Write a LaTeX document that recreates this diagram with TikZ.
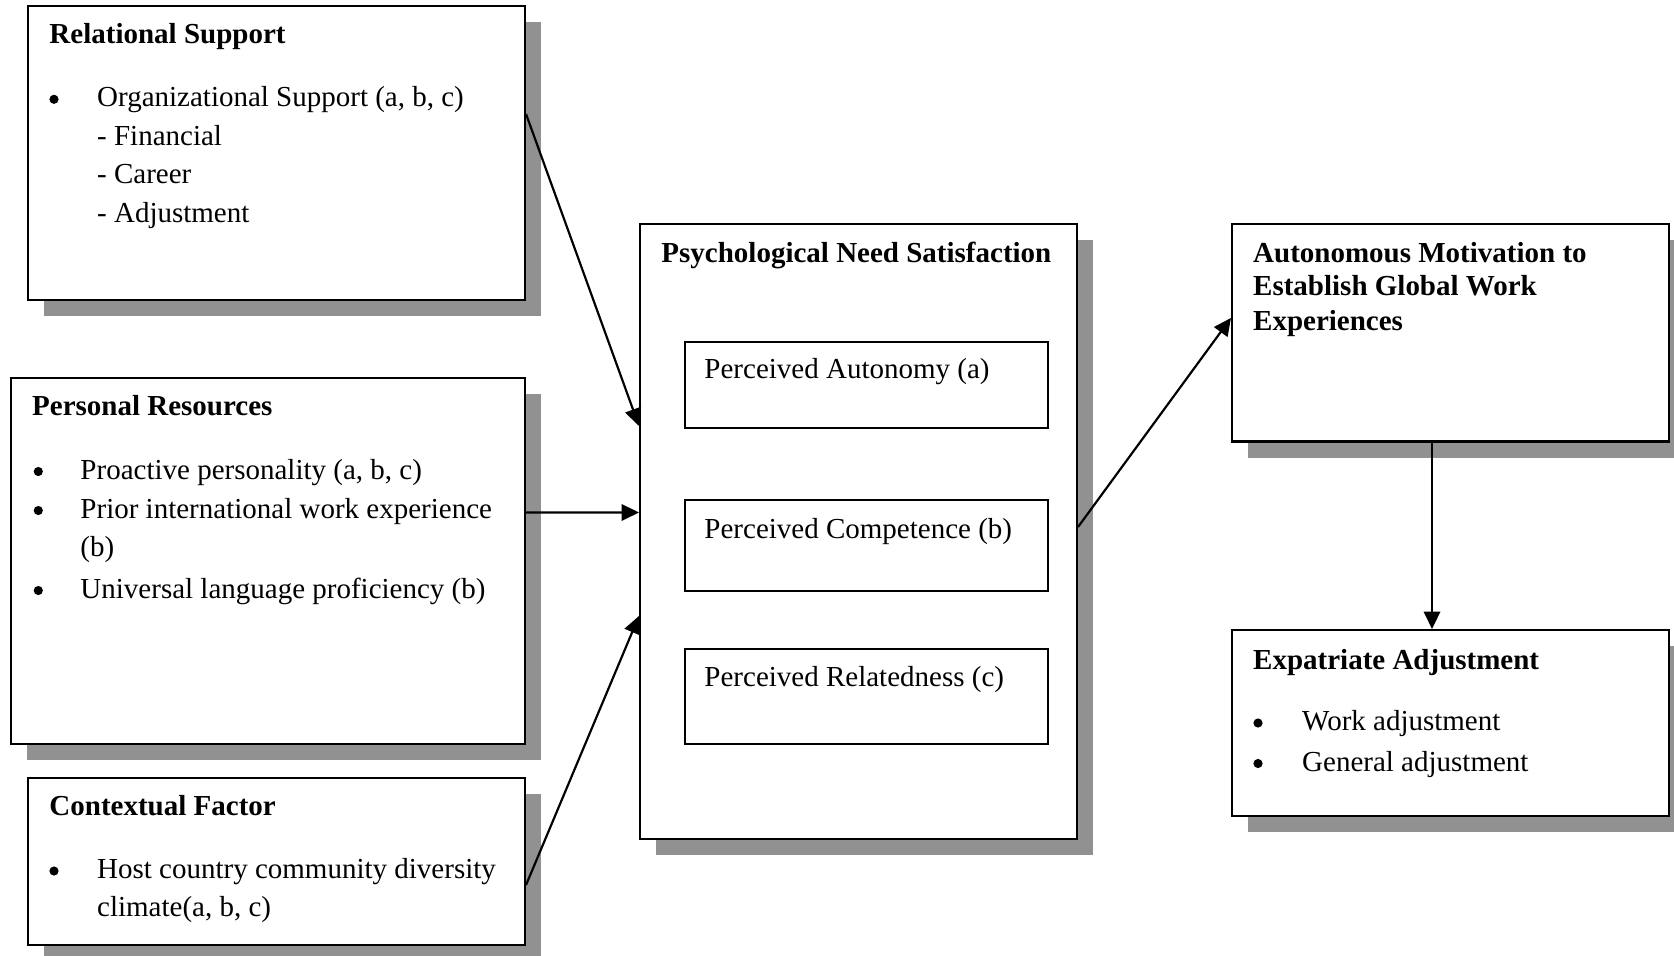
\documentclass[tikz,border=0pt]{standalone}
\usepackage{fontspec}
\setmainfont{Liberation Serif}
\usetikzlibrary{arrows.meta,shadows,fit,calc}
\definecolor{shadowgray}{gray}{0.57}
\begin{document}
\begin{tikzpicture}[x=0.4138pt,y=-0.4138pt,
  box/.style={draw, line width=0.85pt, inner sep=0pt, fill=white},
  sbox/.style={box, drop shadow={shadow xshift=6.62pt, shadow yshift=-6.62pt, fill=shadowgray, opacity=1}},
  txt/.style={anchor=base west, inner sep=0pt, font=\fontsize{12}{14}\selectfont},
  hd/.style={anchor=base west, inner sep=0pt, font=\fontsize{12}{14}\selectfont\bfseries},
  bul/.style={circle, fill, inner sep=0pt, minimum size=3.8pt},
  arr/.style={line width=0.9pt, -{Triangle[length=7.2pt,width=6.8pt]}}]
\useasboundingbox (0,0) rectangle (1674,955);

% boxes
\node[sbox, fit={(28,6)(525,300)}] (RS) {};
\node[sbox, fit={(11,378)(525,744)}] (PR) {};
\node[sbox, fit={(28,778)(525,945)}] (CF) {};
\node[sbox, fit={(640,224)(1077,839)}] (PNS) {};
\node[box, fit={(685,342)(1048,428)}] (PA) {};
\node[box, fit={(685,500)(1048,591)}] (PC) {};
\node[box, fit={(685,649)(1048,744)}] (PRel) {};
\node[sbox, fit={(1232,224)(1669,441.5)}] (AM) {};
\node[sbox, fit={(1232,630)(1669,816)}] (EA) {};

% Relational Support
\node[hd] (rs0) at (49,43.3) {Relational Support};
\node[bul] (rsb1) at (54,99.3) {};
\node[txt] (rs1) at (96.7,106.7) {Organizational Support (a, b, c)};
\node[txt] (rs2) at (96.7,145) {- Financial};
\node[txt] (rs3) at (96.7,183.8) {- Career};
\node[txt] (rs4) at (96.7,222.5) {- Adjustment};

% Personal Resources
\node[hd] (pr0) at (31.7,415) {Personal Resources};
\node[bul] (prb1) at (38.3,471.5) {};
\node[txt] (pr1) at (80,479) {Proactive personality (a, b, c)};
\node[bul] (prb2) at (38.3,510.5) {};
\node[txt] (pr2) at (80,518) {Prior international work experience};
\node[txt] (pr3) at (80,556.5) {(b)};
\node[bul] (prb3) at (38.3,590.5) {};
\node[txt] (pr4) at (80,598) {Universal language proficiency (b)};

% Contextual Factor
\node[hd] (cf0) at (49,815) {Contextual Factor};
\node[bul] (cfb1) at (54,871) {};
\node[txt] (cf1) at (96.7,878.3) {Host country community diversity};
\node[txt] (cf2) at (96.7,916.7) {climate(a, b, c)};

% Psychological Need Satisfaction
\node[hd] (pns0) at (661,262) {Psychological Need Satisfaction};
\node[txt] (pa0) at (704,378.3) {Perceived Autonomy (a)};
\node[txt] (pc0) at (704,538) {Perceived Competence (b)};
\node[txt] (prl0) at (704,686.5) {Perceived Relatedness (c)};

% Autonomous Motivation
\node[hd] (am1) at (1252.7,262) {Autonomous Motivation to};
\node[hd] (am2) at (1252.7,295.3) {Establish Global Work};
\node[hd] (am3) at (1252.7,330.5) {Experiences};

% Expatriate Adjustment
\node[hd] (ea0) at (1252.7,669) {Expatriate Adjustment};
\node[bul] (eab1) at (1258,723) {};
\node[txt] (ea1) at (1301.7,730.5) {Work adjustment};
\node[bul] (eab2) at (1258,763.5) {};
\node[txt] (ea2) at (1301.7,771) {General adjustment};

% connectors
\draw[arr] ($(RS.north east)+(0,109)$) -- ($(PNS.north west)+(0,203)$);
\draw[arr] ($(PR.north east)+(0,135.5)$) -- ($(PNS.north west)+(0,289.5)$);
\draw[arr] ($(CF.north east)+(0,108)$) -- ($(PNS.north west)+(0,393)$);
\draw[arr] ($(PNS.north east)+(0,304)$) -- ($(AM.north west)+(0,95)$);
\draw[arr] ($(AM.south)+(-18.5,0)$) -- ($(EA.north)+(-18.5,0)$);
\end{tikzpicture}
\end{document}
